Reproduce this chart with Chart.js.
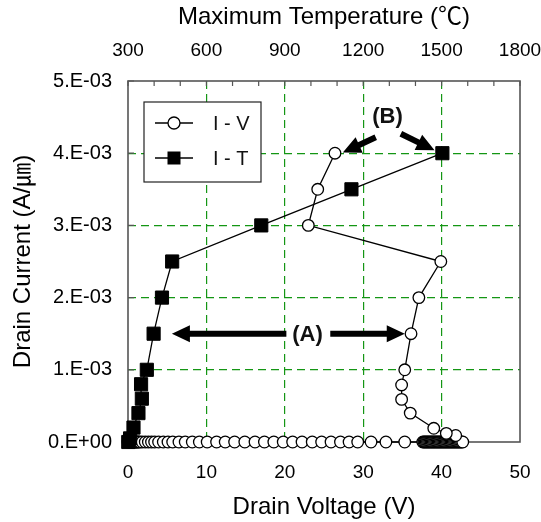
<!DOCTYPE html>
<html>
<head>
<meta charset="utf-8">
<script src="https://cdn.jsdelivr.net/npm/chart.js@4.4.0/dist/chart.umd.min.js"></script>
<style>
  html, body { margin: 0; padding: 0; background: #fff; }
</style>
</head>
<body>
<canvas id="chart1" width="541" height="522"></canvas>
<script>
// I - V curve, bottom axis (drain voltage, V) / drain current (A/um)
var ivVoltage = [
  0, 0.1, 0.2, 0.3, 0.4, 0.5, 0.6, 0.7, 0.8, 0.9,
  1.0, 1.1, 1.2, 1.35, 1.5, 1.8, 2.2, 2.6, 3.0, 3.4,
  3.9, 4.5, 5.1, 5.7, 6.5, 7.3, 8.2, 9.1, 10.1, 11.3,
  12.4, 13.6, 14.9, 16.2, 17.4, 18.6, 19.8, 21.0, 22.2, 23.5,
  24.7, 25.9, 27.1, 28.2, 29.3, 31.0, 32.9, 35.3,
  37.6, 37.75, 37.9, 38.05, 38.2, 38.35, 38.5, 38.65, 38.8, 38.95,
  39.1, 39.25, 39.4, 39.55, 39.7, 39.85, 40.0, 40.15, 40.3, 40.45,
  40.6, 40.75, 40.9, 41.05, 41.2, 41.35, 41.5, 41.65, 41.8, 41.95,
  42.1, 42.25, 42.4, 42.55, 42.7,
  41.8, 40.6, 39.0, 36.0, 34.9, 34.9, 35.3, 36.1, 37.1, 39.9, 23.0, 24.2, 26.4
];
var ivCurrent = [
  0, 0, 0, 0, 0, 0, 0, 0, 0, 0,
  0, 0, 0, 0, 0, 0, 0, 0, 0, 0,
  0, 0, 0, 0, 0, 0, 0, 0, 0, 0,
  0, 0, 0, 0, 0, 0, 0, 0, 0, 0,
  0, 0, 0, 0, 0, 0, 0, 0,
  0, 0, 0, 0, 0, 0, 0, 0, 0, 0,
  0, 0, 0, 0, 0, 0, 0, 0, 0, 0,
  0, 0, 0, 0, 0, 0, 0, 0, 0, 0,
  0, 0, 0, 0, 0,
  0.09e-3, 0.12e-3, 0.19e-3, 0.40e-3, 0.59e-3, 0.79e-3, 1.00e-3, 1.50e-3, 2.00e-3, 2.50e-3, 3.00e-3, 3.50e-3, 4.00e-3
];

// I - T curve, top axis (maximum temperature, C)
var itTemp = [301, 308, 321, 340, 353, 350, 372, 398, 430, 469, 810, 1155, 1503];
var itCurrent = [0, 0.05e-3, 0.2e-3, 0.4e-3, 0.6e-3, 0.8e-3, 1.0e-3, 1.5e-3, 2.0e-3, 2.5e-3, 3.0e-3, 3.5e-3, 4.0e-3];

// axis ranges
var voltRange = [0, 50];
var tempRange = [300, 1800];
var currentRange = [0, 5e-3];

// annotations (data units of bottom / left axes)
var noteText = ['(A)', '(B)'];
var notePos = [[22.9, 1.5e-3], [33.1, 4.52e-3]];
var arrowFrom = [[20.2, 1.5e-3], [25.8, 1.5e-3], [31.6, 4.22e-3], [34.8, 4.27e-3]];
var arrowTo = [[5.6, 1.5e-3], [35.3, 1.5e-3], [27.4, 4.01e-3], [39.1, 4.04e-3]];

var legendNames = ['I - V', 'I - T'];

var FONT = "'Liberation Sans', Arial, 'Noto Sans CJK KR', sans-serif";
var GRID = 'rgb(20,150,20)';

function drawArrow(ctx, x1, y1, x2, y2, shaft, headLen, headW) {
  var ang = Math.atan2(y2 - y1, x2 - x1);
  var len = Math.hypot(x2 - x1, y2 - y1);
  ctx.save();
  ctx.translate(x1, y1);
  ctx.rotate(ang);
  ctx.beginPath();
  ctx.moveTo(0, -shaft / 2);
  ctx.lineTo(len - headLen, -shaft / 2);
  ctx.lineTo(len - headLen, -headW / 2);
  ctx.lineTo(len, 0);
  ctx.lineTo(len - headLen, headW / 2);
  ctx.lineTo(len - headLen, shaft / 2);
  ctx.lineTo(0, shaft / 2);
  ctx.closePath();
  ctx.fill();
  ctx.restore();
}

var extras = {
  id: 'extras',
  beforeDatasetsDraw: function(chart) {
    var ctx = chart.ctx, a = chart.chartArea;
    var top = chart.scales.x2, y = chart.scales.y;
    ctx.save();
    ctx.strokeStyle = '#555';
    ctx.lineWidth = 1.6;
    ctx.strokeRect(a.left, a.top, a.right - a.left, a.bottom - a.top);
    // inward ticks
    ctx.lineWidth = 1.2;
    ctx.beginPath();
    top.ticks.forEach(function(t) {
      var px = top.getPixelForValue(t.value);
      ctx.moveTo(px, a.top);
      ctx.lineTo(px, a.top + 5);
    });
    y.ticks.forEach(function(t) {
      var py = y.getPixelForValue(t.value);
      ctx.moveTo(a.left, py);
      ctx.lineTo(a.left + 6, py);
    });
    ctx.stroke();
    ctx.restore();
  },
  afterDatasetsDraw: function(chart) {
    var ctx = chart.ctx, a = chart.chartArea;
    var x = chart.scales.x, y = chart.scales.y;
    ctx.save();
    // legend
    var bx = a.left + 16, by = a.top + 21;
    ctx.fillStyle = '#fff';
    ctx.fillRect(bx, by, 117, 80);
    ctx.strokeStyle = '#222';
    ctx.lineWidth = 1.2;
    ctx.strokeRect(bx, by, 117, 80);
    var rows = [by + 21, by + 56];
    ctx.font = '20px ' + FONT;
    ctx.textBaseline = 'middle';
    rows.forEach(function(ry, i) {
      ctx.strokeStyle = '#000';
      ctx.lineWidth = 1.3;
      ctx.beginPath();
      ctx.moveTo(bx + 11, ry);
      ctx.lineTo(bx + 49, ry);
      ctx.stroke();
      if (i === 0) {
        ctx.beginPath();
        ctx.arc(bx + 30, ry, 6, 0, Math.PI * 2);
        ctx.fillStyle = '#fff';
        ctx.fill();
        ctx.stroke();
      } else {
        ctx.fillStyle = '#000';
        ctx.fillRect(bx + 23.5, ry - 6.5, 13, 13);
      }
      ctx.fillStyle = '#111';
      ctx.fillText(legendNames[i], bx + 69, ry + 1);
    });
    // arrows
    ctx.fillStyle = '#000';
    for (var i = 0; i < arrowFrom.length; i++) {
      drawArrow(ctx,
        x.getPixelForValue(arrowFrom[i][0]), y.getPixelForValue(arrowFrom[i][1]),
        x.getPixelForValue(arrowTo[i][0]), y.getPixelForValue(arrowTo[i][1]),
        6, 18, 17);
    }
    // labels
    ctx.font = 'bold 22px ' + FONT;
    ctx.textAlign = 'center';
    ctx.textBaseline = 'middle';
    ctx.fillStyle = '#111';
    for (var j = 0; j < noteText.length; j++) {
      ctx.fillText(noteText[j], x.getPixelForValue(notePos[j][0]), y.getPixelForValue(notePos[j][1]) + 1);
    }
    ctx.restore();
  }
};

var ivPoints = ivVoltage.map(function(v, i) { return {x: v, y: ivCurrent[i]}; });
var itPoints = itTemp.map(function(t, i) { return {x: t, y: itCurrent[i]}; });

var chart1 = new Chart(document.getElementById('chart1').getContext('2d'), {
  type: 'scatter',
  data: {
    datasets: [
      {
        label: legendNames[1],
        data: itPoints,
        xAxisID: 'x2',
        yAxisID: 'y',
        showLine: true,
        borderColor: '#000',
        borderWidth: 1.3,
        pointStyle: 'rect',
        pointRadius: 9.3,
        pointBackgroundColor: '#000',
        pointBorderColor: '#000',
        pointBorderWidth: 1,
        clip: false
      },
      {
        label: legendNames[0],
        data: ivPoints,
        xAxisID: 'x',
        yAxisID: 'y',
        showLine: true,
        borderColor: '#000',
        borderWidth: 1.3,
        pointStyle: 'circle',
        pointRadius: 5.8,
        pointBackgroundColor: '#fff',
        pointBorderColor: '#000',
        pointBorderWidth: 1.3,
        clip: false
      }
    ]
  },
  options: {
    responsive: false,
    animation: false,
    devicePixelRatio: 1,
    layout: { padding: { left: 0, right: 21, top: 0, bottom: 0 } },
    plugins: {
      legend: { display: false },
      tooltip: { enabled: false }
    },
    scales: {
      x: {
        type: 'linear',
        position: 'bottom',
        min: voltRange[0],
        max: voltRange[1],
        afterFit: function(s) { s.height = 80; s.paddingLeft = 0; s.paddingRight = 0; },
        ticks: {
          stepSize: 10,
          color: '#000',
          padding: 19,
          maxRotation: 0,
          font: { family: FONT, size: 19 }
        },
        grid: {
          drawTicks: false,
          lineWidth: 1.2,
          color: function(c) {
            var v = c.tick ? c.tick.value : 0;
            return (v <= voltRange[0] || v >= voltRange[1]) ? 'rgba(0,0,0,0)' : GRID;
          }
        },
        border: { display: false, dash: [8, 5] },
        title: {
          display: true,
          text: 'Drain Voltage (V)',
          color: '#000',
          padding: { top: 0, bottom: 3 },
          font: { family: FONT, size: 24, lineHeight: 1 }
        }
      },
      x2: {
        type: 'linear',
        position: 'top',
        min: tempRange[0],
        max: tempRange[1],
        afterFit: function(s) { s.height = 81; s.paddingLeft = 0; s.paddingRight = 0; },
        ticks: {
          stepSize: 100,
          autoSkip: false,
          maxRotation: 0,
          color: '#000',
          padding: 19,
          font: { family: FONT, size: 19 },
          callback: function(v) { return v % 300 === 0 ? String(v) : ''; }
        },
        grid: { display: false, drawTicks: false },
        border: { display: false },
        title: {
          display: true,
          text: 'Maximum Temperature (℃)',
          color: '#000',
          padding: { top: 5, bottom: 0 },
          font: { family: FONT, size: 24, lineHeight: 1 }
        }
      },
      y: {
        type: 'linear',
        position: 'left',
        min: currentRange[0],
        max: currentRange[1],
        afterFit: function(s) { s.width = 128; s.paddingTop = 0; s.paddingBottom = 0; },
        ticks: {
          stepSize: 1e-3,
          autoSkip: false,
          color: '#000',
          padding: 16,
          font: { family: FONT, size: 20 },
          callback: function(v) {
            var k = Math.round(v * 1000);
            return k === 0 ? '0.E+00' : k + '.E-03';
          }
        },
        grid: {
          drawTicks: false,
          lineWidth: 1.2,
          color: function(c) {
            var v = c.tick ? c.tick.value : 0;
            return (v <= currentRange[0] + 1e-9 || v >= currentRange[1] - 1e-9) ? 'rgba(0,0,0,0)' : GRID;
          }
        },
        border: { display: false, dash: [8, 5] },
        title: {
          display: true,
          text: 'Drain Current (A/㎛)',
          color: '#000',
          padding: { top: 11, bottom: 0 },
          font: { family: FONT, size: 24, lineHeight: 1 }
        }
      }
    }
  },
  plugins: [extras]
});
</script>
</body>
</html>
